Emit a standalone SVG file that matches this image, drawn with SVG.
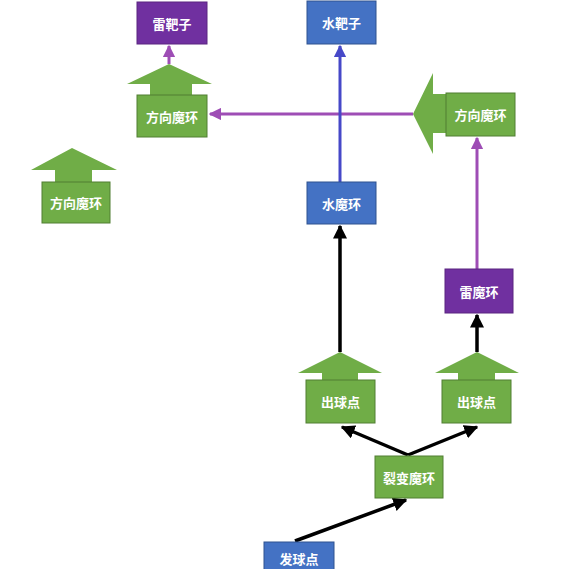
<svg xmlns="http://www.w3.org/2000/svg" width="580" height="569" viewBox="0 0 580 569">
<defs>
<style>
.g{fill:#70AD47;stroke:#507E32;stroke-width:1}
.ga{fill:#70AD47}
.b{fill:#4472C4;stroke:#2F528F;stroke-width:1}
.p{fill:#7030A0;stroke:#5A2580;stroke-width:1}
.t{fill:#fff;font-family:"Noto Sans CJK SC","Noto Sans",sans-serif;font-weight:bold;font-size:13px;text-anchor:middle;dominant-baseline:central}
.lk{stroke:#000;stroke-width:3.5;fill:none}
.lp{stroke:#9E4DB5;stroke-width:3;fill:none}
.lb{stroke:#4648C8;stroke-width:3;fill:none}
</style>
<marker id="mk" viewBox="0 0 10 10" refX="9" refY="5" markerWidth="4" markerHeight="4" orient="auto" markerUnits="strokeWidth"><path d="M0,0 L10,5 L0,10 z" fill="#000"/></marker>
<marker id="mp" viewBox="0 0 10 10" refX="9" refY="5" markerWidth="4.2" markerHeight="4.2" orient="auto" markerUnits="strokeWidth"><path d="M0,0 L10,5 L0,10 z" fill="#9E4DB5"/></marker>
<marker id="mb" viewBox="0 0 10 10" refX="9" refY="5" markerWidth="4.2" markerHeight="4.2" orient="auto" markerUnits="strokeWidth"><path d="M0,0 L10,5 L0,10 z" fill="#4648C8"/></marker>
</defs>
<g id="connectors">
<line class="lp" x1="413" y1="114" x2="210" y2="114" marker-end="url(#mp)"/>
<line class="lb" x1="340" y1="183" x2="340" y2="46" marker-end="url(#mb)"/>
<line class="lp" x1="169" y1="64" x2="169" y2="46" marker-end="url(#mp)"/>
<line class="lp" x1="477" y1="269" x2="477" y2="138" marker-end="url(#mp)"/>
<line class="lk" x1="340" y1="352" x2="340" y2="226" marker-end="url(#mk)"/>
<line class="lk" x1="477" y1="352" x2="477" y2="315" marker-end="url(#mk)"/>
<line class="lk" x1="408" y1="455" x2="342" y2="427" marker-end="url(#mk)"/>
<line class="lk" x1="408" y1="455" x2="477" y2="427" marker-end="url(#mk)"/>
<line class="lk" x1="295" y1="541" x2="406" y2="500" marker-end="url(#mk)"/>
</g>
<g id="n_leibazi"><rect class="p" x="137" y="2" width="70" height="42"/><text class="t" x="172" y="23">雷靶子</text></g>
<g id="n_shuibazi"><rect class="b" x="307" y="1" width="69" height="43"/><text class="t" x="341.5" y="22.5">水靶子</text></g>
<g id="n_fangxiang1"><polygon class="ga" points="169,64 212,84 192,84 192,96 150,96 150,84 127,84"/><rect class="g" x="137" y="95" width="70" height="42"/><text class="t" x="172" y="116">方向魔环</text></g>
<g id="n_fangxiang2"><polygon class="ga" points="413,114 433,73 433,94 447,94 447,133 433,133 433,154"/><rect class="g" x="446" y="93" width="69" height="43"/><text class="t" x="480.5" y="114.5">方向魔环</text></g>
<g id="n_fangxiang3"><polygon class="ga" points="72,148 117,170 92,170 92,183 55,183 55,170 31,170"/><rect class="g" x="42" y="182" width="68" height="41"/><text class="t" x="76" y="202.5">方向魔环</text></g>
<g id="n_shuimohuan"><rect class="b" x="307" y="182" width="69" height="42"/><text class="t" x="341.5" y="203">水魔环</text></g>
<g id="n_leimohuan"><rect class="p" x="445" y="269" width="68" height="44"/><text class="t" x="479" y="291">雷魔环</text></g>
<g id="n_chuqiu1"><polygon class="ga" points="340,352 382,373 358,373 358,381 322,381 322,373 298,373"/><rect class="g" x="306" y="380" width="69" height="43"/><text class="t" x="340.5" y="401.5">出球点</text></g>
<g id="n_chuqiu2"><polygon class="ga" points="477,352 519,373 495,373 495,381 458,381 458,373 435,373"/><rect class="g" x="442" y="380" width="69" height="43"/><text class="t" x="476.5" y="401.5">出球点</text></g>
<g id="n_liebian"><rect class="g" x="375" y="456" width="68" height="42"/><text class="t" x="409" y="477">裂变魔环</text></g>
<g id="n_faqiu"><rect class="b" x="264" y="542" width="70" height="44"/><text class="t" x="299" y="558">发球点</text></g>
</svg>
